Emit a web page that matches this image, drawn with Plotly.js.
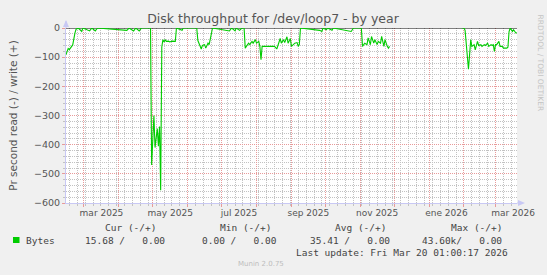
<!DOCTYPE html>
<html>
<head>
<meta charset="utf-8">
<script src="https://cdn.plot.ly/plotly-3.0.1.min.js"></script>
<style>
  html, body { margin: 0; padding: 0; background: #f0f0f0; }
  #chart { width: 547px; height: 275px; }
</style>
</head>
<body>
<div id="chart"></div>
<script>
// ---- data ----
const readDates = [
  '2025-02-13','2025-02-15','2025-02-16','2025-02-18','2025-02-19','2025-02-21','2025-02-22','2025-02-24',
  '2025-02-27','2025-02-28','2025-03-06','2025-03-08','2025-03-11','2025-03-13','2025-04-08','2025-04-10',
  '2025-04-14','2025-04-16','2025-04-19','2025-04-21','2025-04-29','2025-04-30','2025-05-02','2025-05-03',
  '2025-05-05','2025-05-06','2025-05-07','2025-05-08','2025-05-09','2025-05-10','2025-05-11','2025-05-12',
  '2025-05-13','2025-05-15','2025-05-16','2025-05-18','2025-05-19','2025-05-21','2025-05-22','2025-05-27',
  '2025-05-28','2025-06-09','2025-06-10','2025-06-12','2025-06-13','2025-06-14','2025-06-16','2025-06-17',
  '2025-06-19','2025-06-20','2025-06-22','2025-06-23','2025-07-08','2025-07-10','2025-07-13','2025-07-14',
  '2025-07-17','2025-07-19','2025-07-21','2025-07-22','2025-07-23','2025-07-25','2025-07-26','2025-07-28',
  '2025-07-29','2025-07-31','2025-08-01','2025-08-03','2025-08-04','2025-08-05','2025-08-06','2025-08-17',
  '2025-08-19','2025-08-20','2025-08-22','2025-08-23','2025-08-25','2025-08-26','2025-08-28','2025-08-29',
  '2025-08-31','2025-09-01','2025-09-03','2025-09-04','2025-09-06','2025-09-07','2025-09-08','2025-09-09',
  '2025-09-26','2025-09-28','2025-09-29','2025-10-02','2025-10-03','2025-10-07','2025-10-08','2025-10-24',
  '2025-10-26','2025-11-02','2025-11-03','2025-11-05','2025-11-07','2025-11-08','2025-11-10','2025-11-11',
  '2025-11-13','2025-11-14','2025-11-16','2025-11-17','2025-11-19','2025-11-20','2025-11-22','2025-11-23',
  '2025-11-25','2025-11-26','2025-11-27','2025-11-28','2026-01-30','2026-02-01','2026-02-02','2026-02-04',
  '2026-02-05','2026-02-07','2026-02-08','2026-02-10','2026-02-11','2026-02-13','2026-02-14','2026-02-16',
  '2026-02-17','2026-02-19','2026-02-20','2026-02-22','2026-02-23','2026-02-25','2026-02-26','2026-02-27',
  '2026-02-28','2026-03-01','2026-03-02','2026-03-04','2026-03-05','2026-03-07','2026-03-08','2026-03-11',
  '2026-03-12','2026-03-13','2026-03-14','2026-03-16','2026-03-17','2026-03-19','2026-03-20'
];
const readValues = [
  -92,-70,-74,-63,-58,-17,-4,0,
  -12,0,-10,0,-10,0,-8,0,
  -10,0,-10,0,0,-470,-300,-410,
  -345,-405,-338,-556,-65,-40,-48,-40,
  -46,-45,-48,-45,-46,-46,0,-8,
  0,0,-43,-63,-72,-60,-57,-69,
  -52,-57,-17,0,-10,0,-10,0,
  -8,0,0,-69,-63,-52,-57,-46,
  -52,-40,-52,-46,-63,-109,-63,-63,
  -72,-57,-36,-52,-40,-50,-30,-52,
  -36,-63,-57,-52,-50,-63,-57,0,
  -8,-12,0,-6,0,-8,0,-12,
  0,0,-63,-52,-57,-34,-57,-29,
  -52,-40,-57,-46,-52,-29,-63,-40,
  -63,-69,-63,null,0,0,-8,-97,
  -141,-40,-63,-57,-75,-46,-60,-57,
  -63,-57,-60,-52,-63,-57,-60,-57,
  -80,-57,-57,-46,-63,-63,-69,-69,
  -66,-12,0,-12,-6,-17,-16
];
const writeDates = ['2025-02-13 01:00', '2026-03-20 01:00'];
const writeValues = [0, 0];

const monthStarts = ['2025-03-01','2025-04-01','2025-05-01','2025-06-01','2025-07-01','2025-08-01','2025-09-01',
  '2025-10-01','2025-11-01','2025-12-01','2026-01-01','2026-02-01','2026-03-01','2026-04-01'];
const labelMonths = ['2025-03-01','2025-05-01','2025-07-01','2025-09-01','2025-11-01','2026-01-01','2026-03-01'];
const labelTexts = ['mar 2025','may 2025','jul 2025','sep 2025','nov 2025','ene 2026','mar 2026'];
const yTicks = [0,-100,-200,-300,-400,-500,-600];

const seriesName = 'Bytes';
const headers = ['Cur (-/+)','Min (-/+)','Avg (-/+)','Max (-/+)'];
const readStats = ['15.68 ','0.00 ','35.41 ','43.60k'];
const writeStats = ['0.00','0.00','0.00','0.00'];
const lastUpdate = 'Last update: Fri Mar 20 01:00:17 2026';
const titleText = 'Disk throughput for /dev/loop7 - by year';
const yTitle = 'Pr second read (-) / write (+)';
const sideText = 'RRDTOOL / TOBI OETIKER';
const footer = 'Munin 2.0.75';

// ---- layout helpers ----
const W = 547, H = 275, ML = 66, MR = 30, MT = 28, MB = 72;
const PW = W - ML - MR, PH = H - MT - MB;
const px = x => (x - ML) / PW;
const py = y => (H - MB - y) / PH;
const xRange = [writeDates[0], writeDates[1]];

function midMonth(d) {
  const a = new Date(d + 'T00:00:00Z');
  const b = new Date(Date.UTC(a.getUTCFullYear(), a.getUTCMonth() + 1, 1));
  const m = new Date((a.getTime() + b.getTime()) / 2);
  return m.toISOString().replace('T', ' ').slice(0, 19);
}
const labelVals = labelMonths.map(midMonth);

const NB = '\u00a0';
const mono = { family: 'DejaVu Sans Mono, monospace', size: 9.5, color: '#444' };

const annotations = [];
const headerRight = [157, 272, 387, 503];
const valueRight = [166, 278, 391, 503];
headers.forEach((h, i) => annotations.push({
  xref: 'paper', yref: 'paper', x: px(headerRight[i]), y: py(227.3), xanchor: 'right', yanchor: 'middle',
  text: h.replace(/ /g, NB), showarrow: false, font: mono, borderpad: 0
}));
readStats.forEach((r, i) => annotations.push({
  xref: 'paper', yref: 'paper', x: px(valueRight[i]), y: py(240), xanchor: 'right', yanchor: 'middle',
  text: (r + '/' + NB + NB + NB + writeStats[i]).replace(/ /g, NB), showarrow: false, font: mono, borderpad: 0
}));
annotations.push({
  xref: 'paper', yref: 'paper', x: px(25), y: py(240), xanchor: 'left', yanchor: 'middle',
  text: seriesName, showarrow: false, font: mono, borderpad: 0
});
annotations.push({
  xref: 'paper', yref: 'paper', x: px(509), y: py(252), xanchor: 'right', yanchor: 'middle',
  text: lastUpdate.replace(/ /g, NB), showarrow: false, font: mono, borderpad: 0
});
annotations.push({
  xref: 'paper', yref: 'paper', x: px(260.5), y: py(264), xanchor: 'center', yanchor: 'middle',
  text: footer, showarrow: false, font: { family: 'DejaVu Sans', size: 7, color: '#bdbdbd' }, borderpad: 0
});
annotations.push({
  xref: 'paper', yref: 'paper', x: px(539.5), y: py(63), xanchor: 'center', yanchor: 'middle',
  text: sideText, textangle: 90, showarrow: false, font: { family: 'DejaVu Sans', size: 7.5, color: '#c4c4c4' }, borderpad: 0
});

const axisBlue = '#c8c8f4';
const majorGrid = '#e89a9a';
const minorGrid = '#c2c2c2';
const dots = '1px,1px';

const shapes = [
  // legend swatch
  { type: 'rect', xref: 'paper', yref: 'paper', x0: px(13), x1: px(19.5), y0: py(243), y1: py(237),
    fillcolor: '#00cc00', line: { width: 0 } },
  // axis arrows
  { type: 'path', xref: 'paper', yref: 'paper', xsizemode: 'pixel', ysizemode: 'pixel',
    xanchor: 0, yanchor: 1, path: 'M -3 1 L 3 1 L 0 8 Z', fillcolor: axisBlue, line: { width: 0 } },
  { type: 'path', xref: 'paper', yref: 'paper', xsizemode: 'pixel', ysizemode: 'pixel',
    xanchor: 1, yanchor: 0, path: 'M 1 -3 L 1 3 L 8 0 Z', fillcolor: axisBlue, line: { width: 0 } },
  { type: 'line', xref: 'paper', yref: 'paper', x0: 1, x1: px(519), y0: 0, y1: 0, line: { color: axisBlue, width: 1 } },
  { type: 'line', xref: 'paper', yref: 'paper', x0: 0, x1: 0, y0: 1, y1: py(21), line: { color: axisBlue, width: 1 } }
];

const traces = [
  { x: writeDates, y: writeValues, xaxis: 'x', yaxis: 'y', type: 'scatter', mode: 'lines',
    line: { color: '#000000', width: 1.2 }, hoverinfo: 'skip', showlegend: false },
  { x: readDates, y: readValues, xaxis: 'x2', yaxis: 'y', type: 'scatter', mode: 'lines',
    line: { color: '#00cc00', width: 1.1 }, connectgaps: false, name: seriesName, showlegend: false }
];

const layout = {
  width: W, height: H,
  margin: { l: ML, r: MR, t: MT, b: MB, pad: 0 },
  paper_bgcolor: '#f0f0f0', plot_bgcolor: '#ffffff',
  showlegend: false,
  title: { text: titleText, x: 273 / W, xanchor: 'center', y: 1 - 18.5 / H, yanchor: 'middle',
    font: { family: 'DejaVu Sans', size: 12.5, color: '#555' } },
  xaxis: {
    type: 'date', range: xRange, tickmode: 'array', tickvals: monthStarts, showticklabels: false,
    showgrid: true, gridcolor: majorGrid, griddash: dots, gridwidth: 1,
    ticks: 'outside', ticklen: 3, tickcolor: majorGrid,
    minor: { tick0: '2025-02-16', dtick: 7 * 86400000, showgrid: true, gridcolor: minorGrid, griddash: dots,
      ticks: 'outside', ticklen: 2, tickcolor: minorGrid },
    showline: true, linecolor: axisBlue, zeroline: false, fixedrange: true
  },
  xaxis2: {
    type: 'date', range: xRange, overlaying: 'x', anchor: 'y', side: 'bottom',
    tickmode: 'array', tickvals: labelVals, ticktext: labelTexts,
    showgrid: false, ticks: '', showline: false, zeroline: false, ticklabelstandoff: 3,
    tickfont: { family: 'DejaVu Sans', size: 9, color: '#555' }, fixedrange: true
  },
  yaxis: {
    range: [-600, 0], tickmode: 'array', tickvals: yTicks,
    showgrid: true, gridcolor: majorGrid, griddash: dots,
    ticks: 'outside', ticklen: 3, tickcolor: majorGrid,
    minor: { dtick: 20, showgrid: true, gridcolor: minorGrid, griddash: dots, ticks: 'outside', ticklen: 2, tickcolor: minorGrid },
    showline: true, linecolor: axisBlue, zeroline: false,
    tickfont: { family: 'DejaVu Sans', size: 9.5, color: '#555' },
    title: { text: yTitle, standoff: 14, font: { family: 'DejaVu Sans', size: 10.5, color: '#555' } },
    fixedrange: true
  },
  annotations: annotations,
  shapes: shapes
};

Plotly.newPlot('chart', traces, layout, { displayModeBar: false, staticPlot: true });
</script>
</body>
</html>
